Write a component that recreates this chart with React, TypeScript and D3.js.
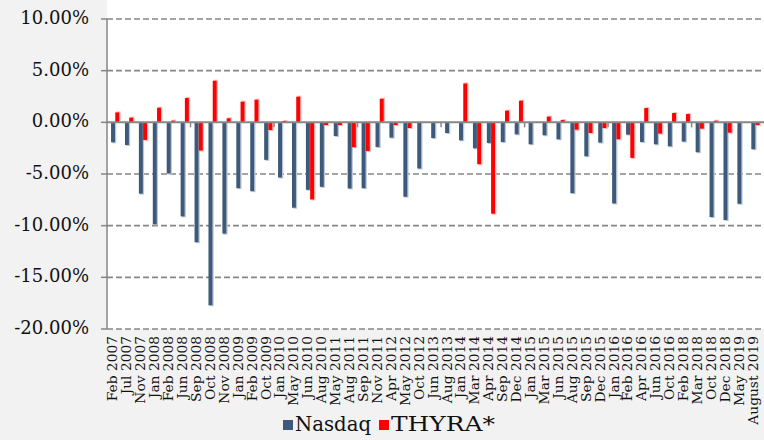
import React from 'react';
import * as d3 from 'd3';

const categories = [
  'Feb 2007', 'Jul 2007', 'Nov 2007', 'Jan 2008', 'Feb 2008', 'Jun 2008', 'Sep 2008', 'Oct 2008',
  'Nov 2008', 'Jan 2009', 'Feb 2009', 'Oct 2009', 'Jan 2010', 'May 2010', 'Jun 2010', 'Aug 2010',
  'May 2011', 'Aug 2011', 'Sep 2011', 'Nov 2011', 'Apr 2012', 'May 2012', 'Oct 2012', 'Jun 2013',
  'Aug 2013', 'Jan 2014', 'Mar 2014', 'Apr 2014', 'Sep 2014', 'Dec 2014', 'Jan 2015', 'Mar 2015',
  'Jun 2015', 'Aug 2015', 'Sep 2015', 'Dec 2015', 'Jan 2016', 'Feb 2016', 'Apr 2016', 'Jun 2016',
  'Oct 2016', 'Feb 2018', 'Mar 2018', 'Oct 2018', 'Dec 2018', 'May 2019', 'August 2019',
];

const nasdaq = [
  -1.93, -2.19, -6.9, -9.87, -4.95, -9.1, -11.6, -17.7,
  -10.77, -6.37, -6.66, -3.63, -5.34, -8.26, -6.53, -6.24,
  -1.32, -6.4, -6.37, -2.38, -1.48, -7.2, -4.47, -1.52,
  -1.03, -1.74, -2.51, -1.99, -1.9, -1.16, -2.12, -1.25,
  -1.64, -6.85, -3.28, -1.96, -7.85, -1.19, -1.9, -2.12,
  -2.32, -1.86, -2.89, -9.16, -9.45, -7.88, -2.6,
];

const thyra = [
  0.96, 0.45, -1.7, 1.41, 0.16, 2.35, -2.73, 4.02,
  0.39, 2.0, 2.19, -0.74, 0.13, 2.48, -7.46, -0.26,
  -0.26, -2.41, -2.77, 2.28, -0.26, -0.55, 0.0, 0.0,
  0.0, 3.76, -4.05, -8.84, 1.13, 2.09, 0.0, 0.55,
  0.22, -0.71, -1.03, -0.55, -1.64, -3.44, 1.38, -1.09,
  0.9, 0.8, -0.61, 0.16, -1.0, 0.0, -0.26,
];

const yTicks = [10, 5, 0, -5, -10, -15, -20];
const seriesNames = ['Nasdaq', 'THYRA*'];
const seriesColors = ['#3E5A7B', '#FF0000'];
const shadowColors = ['#bcc7d4', '#ffb8b8'];

export default function App() {
  const W = 764;
  const H = 440;
  const left = 107;
  const right = 761.2;
  const top = 19;
  const bottom = 329;

  const x0 = d3.scaleBand<string>().domain(categories).range([left, right]).padding(0);
  const bw = x0.bandwidth();
  const x1 = d3.scaleBand<string>().domain(seriesNames).range([bw * 0.29, bw * 0.9]).padding(0);
  const y = d3.scaleLinear().domain([-20, 10]).range([bottom, top]);
  const fmt = (v: number) => v.toFixed(2) + '%';
  const series = [nasdaq, thyra];
  const serif = '"DejaVu Serif", serif';

  return (
    <svg width={W} height={H} style={{ position: 'absolute', left: 0, top: 0 }}>
      <rect x={0} y={0} width={W} height={H} fill="#f2f2f2" />
      <rect x={left} y={0} width={W - left} height={bottom} fill="#ffffff" />

      {yTicks.filter((t) => t !== 0).map((t) => (
        <line key={'g' + t} x1={left} x2={W} y1={y(t)} y2={y(t)} stroke="#868686" strokeWidth={1.6} strokeDasharray="6,3" />
      ))}

      {series.map((vals, si) =>
        categories.map((c, i) => {
          const v = vals[i];
          if (v === 0) return null;
          const bx = (x0(c) as number) + (x1(seriesNames[si]) as number);
          const y0 = y(Math.max(0, v));
          const h = Math.abs(y(v) - y(0));
          return (
            <g key={si + '-' + i}>
              <rect x={bx + 1} y={y0 + (v < 0 ? 1 : -1)} width={x1.bandwidth()} height={h} fill={shadowColors[si]} />
              <rect x={bx} y={y0} width={x1.bandwidth() - 0.3} height={h} fill={seriesColors[si]} />
            </g>
          );
        })
      )}

      <line x1={left} x2={W} y1={y(0)} y2={y(0)} stroke="#868686" strokeWidth={2} />
      {categories.map((c, i) =>
        i % 6 === 0 && i > 0 ? (
          <line key={'xt' + i} x1={x0(c) as number} x2={x0(c) as number} y1={y(0)} y2={y(0) + 5} stroke="#868686" strokeWidth={1.5} />
        ) : null
      )}

      <line x1={left} x2={left} y1={top} y2={bottom} stroke="#868686" strokeWidth={1.5} />
      {yTicks.map((t) => (
        <g key={'yt' + t}>
          <line x1={left - 6} x2={left} y1={y(t)} y2={y(t)} stroke="#868686" strokeWidth={1.5} />
          <text x={89} y={y(t)} textAnchor="end" dominantBaseline="middle" fontFamily={serif} fontSize={18} fill="#111111">
            {fmt(t)}
          </text>
        </g>
      ))}

      {categories.map((c) => {
        const cx = (x0(c) as number) + bw / 2;
        return (
          <text key={'xl' + c} transform={`translate(${cx},${336}) rotate(-90)`} textAnchor="end" dominantBaseline="middle" fontFamily={serif} fontSize={13.8} fill="#111111">
            {c}
          </text>
        );
      })}

      <g>
        <rect x={283} y={420} width={10} height={10} fill={seriesColors[0]} />
        <text x={295} y={425.5} dominantBaseline="middle" fontFamily={serif} fontSize={20} textLength={76} lengthAdjust="spacingAndGlyphs" fill="#111111">Nasdaq</text>
        <rect x={379} y={420} width={10} height={10} fill={seriesColors[1]} />
        <text x={391} y={425.5} dominantBaseline="middle" fontFamily={serif} fontSize={20} textLength={104} lengthAdjust="spacingAndGlyphs" fill="#111111">THYRA*</text>
      </g>
    </svg>
  );
}
